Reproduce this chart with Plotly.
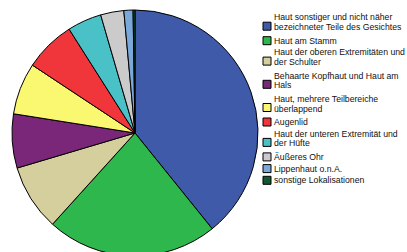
import plotly.graph_objects as go

# ---- data ----
labels = [
    "Haut sonstiger und nicht näher<br>bezeichneter Teile des Gesichtes",
    "Haut am Stamm",
    "Haut der oberen Extremitäten und<br>der Schulter",
    "Behaarte Kopfhaut und Haut am<br>Hals",
    "Haut, mehrere Teilbereiche<br>überlappend",
    "Augenlid",
    "Haut der unteren Extremität und<br>der Hüfte",
    "Äußeres Ohr",
    "Lippenhaut o.n.A.",
    "sonstige Lokalisationen",
]
values = [39.2, 22.5, 8.7, 7.1, 6.8, 6.7, 4.5, 3.05, 1.2, 0.25]
colors = ["#3F5AA9", "#2EB74C", "#D5CF9D", "#7A2779", "#FAF771",
          "#F0353B", "#49C1C6", "#CBCBCB", "#7AA8DA", "#0F5A31"]

W, H = 407, 260          # slightly taller than the window so the pie is clipped at the bottom like the reference

fig = go.Figure()
fig.add_trace(go.Pie(
    labels=[l.replace("<br>", " ") for l in labels],
    values=values,
    sort=False,
    direction="clockwise",
    rotation=0,
    marker=dict(colors=colors, line=dict(color="#000000", width=1)),
    textinfo="none",
    showlegend=False,
    domain=dict(x=[12 / W, 258 / W], y=[1 - 256 / H, 1 - 10 / H]),
))

# ---- manual legend (built from labels / colors) ----
shapes, annos = [], []
y_line = 17.5          # pixel centre of first text line
line_step = 9.7
item_gap = 11.7
for lab, col in zip(labels, colors):
    lines = lab.split("<br>")
    for k, ln in enumerate(lines):
        annos.append(dict(x=273 / W, y=1 - (y_line + k * line_step) / H,
                          xref="paper", yref="paper", xanchor="left", yanchor="middle",
                          text=ln, showarrow=False, borderpad=0,
                          font=dict(family="Liberation Sans, Arial", size=8.7, color="#111111")))
    last = y_line + (len(lines) - 1) * line_step
    bc = last - (1 if len(lines) > 1 else 0)
    shapes.append(dict(type="rect", xref="paper", yref="paper",
                       x0=263 / W, x1=271 / W, y0=1 - (bc + 4) / H, y1=1 - (bc - 4) / H,
                       fillcolor=col, line=dict(color="#000000", width=1)))
    y_line = last + item_gap + (1.8 if len(lines) > 1 else 0)

fig.update_layout(
    width=W, height=H,
    margin=dict(l=0, r=0, t=0, b=0),
    paper_bgcolor="white", plot_bgcolor="white",
    shapes=shapes, annotations=annos,
    showlegend=False,
)

fig.write_html("out.html", config={"displayModeBar": False},
               post_script="document.body.style.margin='0';document.body.style.overflow='hidden';")
